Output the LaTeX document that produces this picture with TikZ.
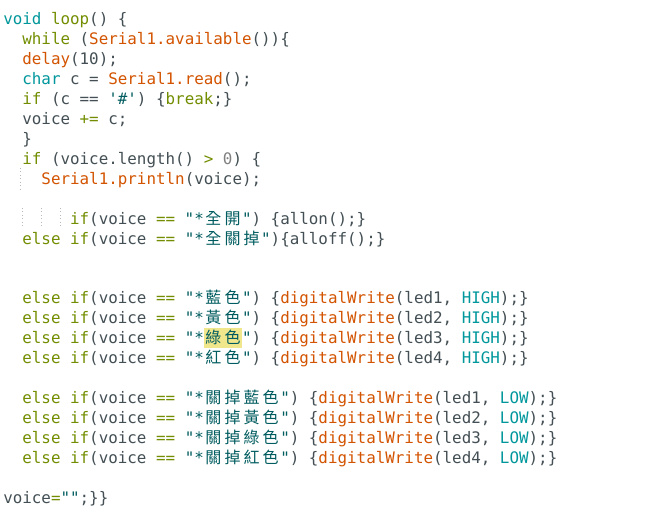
\documentclass[tikz,border=0pt]{standalone}
\usepackage{fontspec}
\setmonofont{DejaVu Sans Mono}
\newfontfamily\cjk{Noto Sans CJK TC}
\usepackage{tikz}

\definecolor{codegray}{HTML}{434F54}
\definecolor{kwolive}{HTML}{728E00}
\definecolor{tyteal}{HTML}{00979C}
\definecolor{fnorange}{HTML}{D35400}
\definecolor{strteal}{HTML}{005C5F}
\definecolor{hlyellow}{HTML}{F0E68C}
\definecolor{guidegray}{HTML}{B8B8B8}

% token colours
\newcommand\cKw[1]{\textcolor{kwolive}{#1}}
\newcommand\cTy[1]{\textcolor{tyteal}{#1}}
\newcommand\cFn[1]{\textcolor{fnorange}{#1}}
\newcommand\cSt[1]{\textcolor{strteal}{#1}}
% each CJK glyph takes two columns
\newlength\zw \setlength\zw{14.33pt}
\def\zhloop#1{\ifx\relax#1\else\makebox[\zw]{\cjk\fontsize{12}{14}\selectfont #1}\expandafter\zhloop\fi}
\newcommand\zh[1]{\zhloop#1\relax}

\begin{document}
\begin{tikzpicture}[x=0.75pt,y=-0.75pt,
  code/.style={anchor=base west, inner sep=0pt, text=codegray,
    font=\ttfamily\fontsize{11.9}{14}\selectfont},
  guide/.style={draw=guidegray, dotted, line width=0.6pt},
  hlbox/.style={fill=hlyellow}]
  \fill[white] (0,0) rectangle (658,513);
  \useasboundingbox (0,0) rectangle (658,513);
  \fill[hlbox] (203.5,328) rectangle (242,348);
  \draw[guide] (20,168) -- (20,189);
  \foreach \gx in {22,41,60}
    \draw[guide] (\gx,208) -- (\gx,228);

  \node[code] (l1) at (3,25) {\cTy{void} \cKw{loop}() \{};
  \node[code] (l2) at (22.1,44.92) {\cKw{while} (\cFn{Serial1.available}())\{};
  \node[code] (l3) at (22.1,64.84) {\cFn{delay}(10);};
  \node[code] (l4) at (22.1,84.76) {\cTy{char} c = \cFn{Serial1.read}();};
  \node[code] (l5) at (22.1,104.68) {\cKw{if} (c == \cSt{'\#'}) \{\cKw{break};\}};
  \node[code] (l6) at (22.1,124.6) {voice \cKw{+=} c;};
  \node[code] (l7) at (22.1,144.52) {\}};
  \node[code] (l8) at (22.1,164.44) {\cKw{if} (voice.length() \cKw{>} \textcolor{gray}{0}) \{};
  \node[code] (l9) at (41.2,184.36) {\cFn{Serial1.println}(voice);};

  \node[code] (l11) at (69.85,224.2) {\cKw{if}(voice \cKw{==} \cSt{"*\zh{全開}"}) \{allon();\}};
  \node[code] (l12) at (22.1,244.12) {\cKw{else if}(voice \cKw{==} \cSt{"*\zh{全關掉}"})\{alloff();\}};

  \node[code] (l15) at (22.1,303.88) {\cKw{else if}(voice \cKw{==} \cSt{"*\zh{藍色}"}) \{\cFn{digitalWrite}(led1, \cTy{HIGH});\}};
  \node[code] (l16) at (22.1,323.8) {\cKw{else if}(voice \cKw{==} \cSt{"*\zh{黃色}"}) \{\cFn{digitalWrite}(led2, \cTy{HIGH});\}};
  \node[code] (l17) at (22.1,343.72) {\cKw{else if}(voice \cKw{==} \cSt{"*\zh{綠色}"}) \{\cFn{digitalWrite}(led3, \cTy{HIGH});\}};
  \node[code] (l18) at (22.1,363.64) {\cKw{else if}(voice \cKw{==} \cSt{"*\zh{紅色}"}) \{\cFn{digitalWrite}(led4, \cTy{HIGH});\}};

  \node[code] (l20) at (22.1,403.48) {\cKw{else if}(voice \cKw{==} \cSt{"*\zh{關掉藍色}"}) \{\cFn{digitalWrite}(led1, \cTy{LOW});\}};
  \node[code] (l21) at (22.1,423.4) {\cKw{else if}(voice \cKw{==} \cSt{"*\zh{關掉黃色}"}) \{\cFn{digitalWrite}(led2, \cTy{LOW});\}};
  \node[code] (l22) at (22.1,443.32) {\cKw{else if}(voice \cKw{==} \cSt{"*\zh{關掉綠色}"}) \{\cFn{digitalWrite}(led3, \cTy{LOW});\}};
  \node[code] (l23) at (22.1,463.24) {\cKw{else if}(voice \cKw{==} \cSt{"*\zh{關掉紅色}"}) \{\cFn{digitalWrite}(led4, \cTy{LOW});\}};

  \node[code] (l25) at (3,503.08) {voice\cKw{=}\cSt{""};\}\}};
\end{tikzpicture}
\end{document}
